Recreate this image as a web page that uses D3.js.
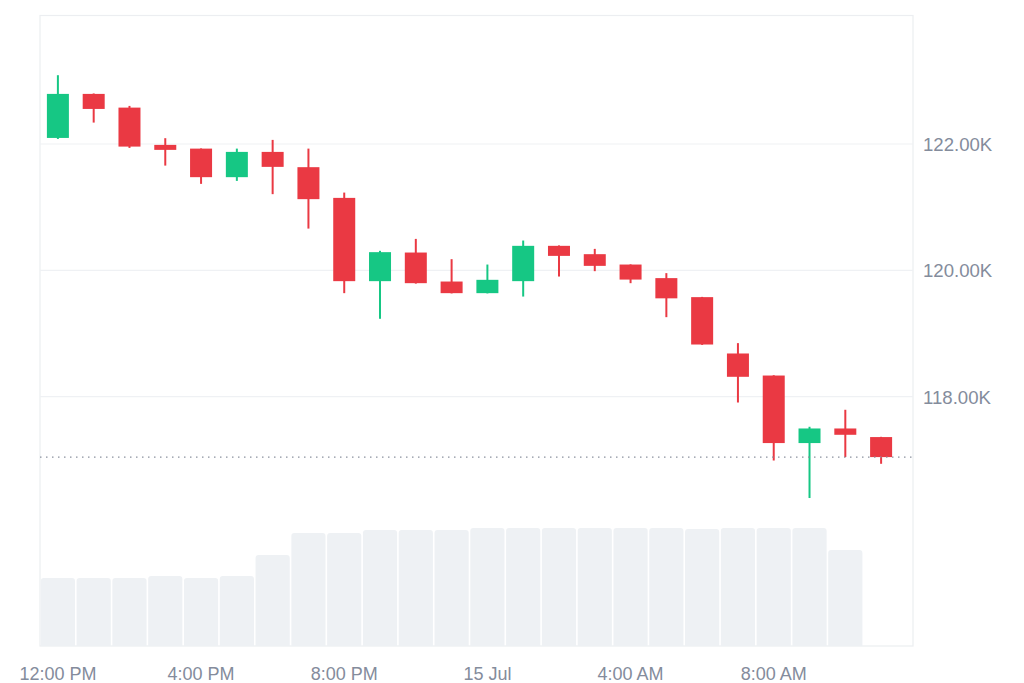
<!DOCTYPE html>
<html>
<head>
<meta charset="utf-8">
<script src="https://cdn.jsdelivr.net/npm/d3@7/dist/d3.min.js"></script>
<style>
  html, body { margin: 0; padding: 0; background: #ffffff; }
  svg { display: block; }
  text { font-family: "Liberation Sans", Arial, sans-serif; }
</style>
</head>
<body>
<svg id="chart" width="1024" height="683"></svg>
<script>
// ---- Data (hourly BTC candles, 14 Jul 12:00 PM → 15 Jul 11:00 AM) ----
const hours = ["12:00 PM","1:00 PM","2:00 PM","3:00 PM","4:00 PM","5:00 PM","6:00 PM","7:00 PM",
               "8:00 PM","9:00 PM","10:00 PM","11:00 PM","15 Jul","1:00 AM","2:00 AM","3:00 AM",
               "4:00 AM","5:00 AM","6:00 AM","7:00 AM","8:00 AM","9:00 AM","10:00 AM","11:00 AM"];
const open  = [122096,122793,122576,121986,121927,121475,121875,121633,121147,119829,120282,119823,
               119639,119829,120388,120256,120092,119877,119576,118684,118335,117266,117497,117361];
const high  = [123089,122800,122603,122092,121930,121927,122065,121927,121231,120309,120498,120177,
               120092,120472,120395,120340,120095,119956,119580,118848,118340,117524,117793,117365];
const low   = [122080,122339,121938,121658,121369,121416,121206,120661,119639,119233,119790,119635,
               119635,119585,119902,119987,119797,119259,118820,117908,116990,116396,117044,116938];
const close = [122793,122555,121959,121907,121475,121875,121638,121127,119829,120288,119797,119639,
               119850,120388,120229,120071,119854,119557,118826,118315,117266,117497,117397,117044];
const volume = [6.8,6.8,6.8,7.0,6.8,7.0,9.1,11.3,11.3,11.6,11.6,11.6,11.8,11.8,11.8,11.8,11.8,11.8,
                11.7,11.8,11.8,11.8,9.6];
const tickHours = ["12:00 PM","4:00 PM","8:00 PM","15 Jul","4:00 AM","8:00 AM"];
const priceTicks = [118000,120000,122000];

const candles = hours.map((h,i)=>({h, o:open[i], hi:high[i], lo:low[i], c:close[i], v:volume[i]}));

const svg = d3.select("#chart");
const plot = {left:40, top:15.5, right:913, bottom:646};

const x = d3.scaleBand().domain(hours).range([40, 899]).paddingInner(0).paddingOuter(0);
const y = d3.scaleLinear().domain([118000,122000]).range([396.7,144]);
const yv = d3.scaleLinear().domain([0, d3.max(volume)]).range([646, 528]);

const GREEN = "#16c784", RED = "#ea3943";

// frame
svg.append("rect").attr("x",plot.left).attr("y",plot.top)
  .attr("width",plot.right-plot.left).attr("height",plot.bottom-plot.top)
  .attr("fill","none").attr("stroke","#eceef1").attr("stroke-width",1.2);

// gridlines
svg.append("g").selectAll("line").data(priceTicks).join("line")
  .attr("x1",plot.left).attr("x2",plot.right)
  .attr("y1",d=>y(d)).attr("y2",d=>y(d))
  .attr("stroke","#eff1f4").attr("stroke-width",1.2);

// volume bars (rounded top)
const bw = x.bandwidth() - 1.6;
svg.append("g").selectAll("path").data(candles.filter(d=>d.v!==undefined)).join("path")
  .attr("fill","#eef1f4")
  .attr("d", d=>{
    const x0 = x(d.h)+0.8, y0 = yv(d.v), y1 = yv(0), r = 3;
    return `M${x0},${y1}V${y0+r}Q${x0},${y0} ${x0+r},${y0}H${x0+bw-r}Q${x0+bw},${y0} ${x0+bw},${y0+r}V${y1}Z`;
  });

// wicks
const cx = d => x(d.h) + x.bandwidth()/2;
svg.append("g").selectAll("line").data(candles).join("line")
  .attr("x1",cx).attr("x2",cx)
  .attr("y1",d=>y(d.hi)).attr("y2",d=>y(d.lo))
  .attr("stroke",d=>d.c>=d.o?GREEN:RED).attr("stroke-width",2);

// bodies
const bodyW = 22;
svg.append("g").selectAll("rect").data(candles).join("rect")
  .attr("x",d=>cx(d)-bodyW/2).attr("width",bodyW)
  .attr("y",d=>y(Math.max(d.o,d.c)))
  .attr("height",d=>Math.max(1.5, Math.abs(y(d.o)-y(d.c))))
  .attr("fill",d=>d.c>=d.o?GREEN:RED);

// last price dotted line
const last = close[close.length-1];
svg.append("line").attr("x1",plot.left).attr("x2",plot.right)
  .attr("y1",y(last)).attr("y2",y(last))
  .attr("stroke","#8a919e").attr("stroke-width",1.3).attr("stroke-dasharray","1.5 4.5");

// y axis (right)
const yAxis = d3.axisRight(y).tickValues(priceTicks).tickSize(0).tickPadding(0)
  .tickFormat(d=>(d/1000).toFixed(2)+"K");
const gy = svg.append("g").attr("transform",`translate(923,0)`).call(yAxis);
gy.select(".domain").remove();
gy.selectAll("text").attr("fill","#848c9c").attr("font-size","18.6px").attr("dy","0.35em")
  .attr("font-family",'"Liberation Sans", Arial, sans-serif');

// x axis
const xAxis = d3.axisBottom(x).tickValues(tickHours).tickSize(0).tickPadding(0);
const gx = svg.append("g").attr("transform",`translate(0,666)`).call(xAxis);
gx.select(".domain").remove();
gx.selectAll("text").attr("fill","#848c9c").attr("font-size","18px").attr("dy","0.75em")
  .attr("font-family",'"Liberation Sans", Arial, sans-serif');
</script>
</body>
</html>
